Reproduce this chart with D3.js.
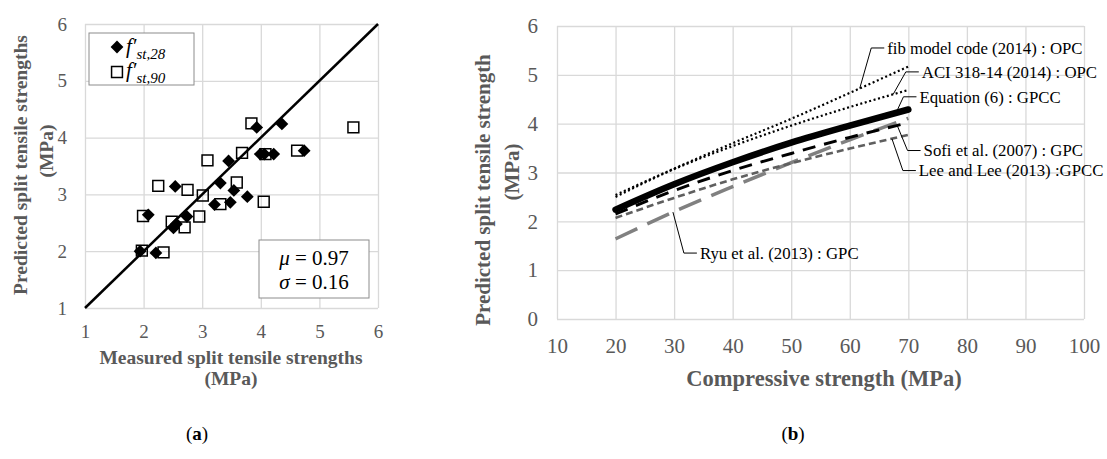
<!DOCTYPE html>
<html>
<head>
<meta charset="utf-8">
<script src="https://cdn.jsdelivr.net/npm/d3@7"></script>
<style>
  body { margin: 0; background: #fff; }
  text { font-family: "Liberation Serif", "Times New Roman", serif; }
</style>
</head>
<body>
<svg width="1107" height="459"></svg>
<script>
"use strict";

// ---- data: panel (a) ----
const measured28  = [1.94, 2.08, 2.21, 2.54, 2.51, 2.56, 2.74, 3.21, 3.31, 3.45, 3.48, 3.54, 3.77, 3.93, 3.99, 4.06, 4.22, 4.36, 4.74];
const predicted28 = [2.00, 2.64, 1.97, 3.14, 2.41, 2.48, 2.61, 2.82, 3.20, 3.59, 2.86, 3.07, 2.96, 4.18, 3.71, 3.71, 3.71, 4.24, 3.77];
const measured90  = [1.97, 1.99, 2.25, 2.34, 2.48, 2.70, 2.75, 2.95, 3.01, 3.09, 3.31, 3.59, 3.68, 3.84, 4.05, 4.08, 4.62, 5.58];
const predicted90 = [2.01, 2.62, 3.15, 1.98, 2.52, 2.42, 3.08, 2.61, 2.98, 3.60, 2.83, 3.21, 3.73, 4.25, 2.87, 3.71, 3.77, 4.18];
const ticksA = [1, 2, 3, 4, 5, 6];

// ---- data: panel (b) ----
const fc   = [20, 30, 40, 50, 60, 70];
const fib  = [2.54, 3.08, 3.60, 4.10, 4.63, 5.17];
const aci  = [2.50, 3.07, 3.54, 3.96, 4.34, 4.69];
const eq6  = [2.24, 2.76, 3.21, 3.61, 3.96, 4.29];
const sofi = [2.15, 2.63, 3.04, 3.39, 3.72, 4.02];
const lee  = [2.07, 2.48, 2.86, 3.19, 3.49, 3.77];
const ryu  = [1.64, 2.20, 2.71, 3.20, 3.67, 4.11];
const ticksBx = [10, 20, 30, 40, 50, 60, 70, 80, 90, 100];
const ticksBy = [0, 1, 2, 3, 4, 5, 6];

const svg = d3.select('svg');
const gridColor = '#d9d9d9';
const labelColor = '#595959';

function drawGrid(g, x, y, xt, yt) {
    const h = y.range()[0] - y.range()[1];
    const w = x.range()[1] - x.range()[0];
    g.append('g')
        .attr('transform', `translate(0,${y.range()[0]})`)
        .call(d3.axisBottom(x).tickValues(xt).tickSize(-h).tickFormat(''))
        .call(a => a.select('.domain').remove())
        .selectAll('line').attr('stroke', gridColor).attr('stroke-width', 1.3);
    g.append('g')
        .attr('transform', `translate(${x.range()[0]},0)`)
        .call(d3.axisLeft(y).tickValues(yt).tickSize(-w).tickFormat(''))
        .call(a => a.select('.domain').remove())
        .selectAll('line').attr('stroke', gridColor).attr('stroke-width', 1.3);
}

function drawTickLabels(g, x, y, xt, yt, size, padX, padY) {
    g.append('g')
        .attr('transform', `translate(0,${y.range()[0]})`)
        .call(d3.axisBottom(x).tickValues(xt).tickSize(0).tickPadding(padX).tickFormat(d3.format('d')))
        .call(a => a.select('.domain').remove())
        .selectAll('text')
        .attr('font-family', '"Liberation Serif", serif')
        .attr('font-size', size)
        .attr('fill', labelColor);
    g.append('g')
        .attr('transform', `translate(${x.range()[0]},0)`)
        .call(d3.axisLeft(y).tickValues(yt).tickSize(0).tickPadding(padY).tickFormat(d3.format('d')))
        .call(a => a.select('.domain').remove())
        .selectAll('text')
        .attr('font-family', '"Liberation Serif", serif')
        .attr('font-size', size)
        .attr('fill', labelColor);
}

// ================= panel (a) =================
const xA = d3.scaleLinear().domain([1, 6]).range([85, 378]);
const yA = d3.scaleLinear().domain([1, 6]).range([308, 24]);
const gA = svg.append('g');

drawGrid(gA, xA, yA, ticksA, ticksA);
drawTickLabels(gA, xA, yA, ticksA, ticksA, 19, 17, 18);

const pts90 = measured90.map((m, i) => [m, predicted90[i]]);
const pts28 = measured28.map((m, i) => [m, predicted28[i]]);
const squareSym = d3.symbol().type(d3.symbolSquare).size(118);
const diamondSym = d3.symbol().type(d3.symbolSquare).size(82);

gA.append('g').selectAll('path')
    .data(pts90)
    .join('path')
    .attr('d', squareSym)
    .attr('transform', d => `translate(${xA(d[0])},${yA(d[1])})`)
    .attr('fill', 'none')
    .attr('stroke', '#000')
    .attr('stroke-width', 1.5);

gA.append('g').selectAll('path')
    .data(pts28)
    .join('path')
    .attr('d', diamondSym)
    .attr('transform', d => `translate(${xA(d[0])},${yA(d[1])}) rotate(45)`)
    .attr('fill', '#000');

// 1:1 line
gA.append('line')
    .attr('x1', xA(1)).attr('y1', yA(1))
    .attr('x2', xA(6)).attr('y2', yA(6))
    .attr('stroke', '#000')
    .attr('stroke-width', 2.5);

// legend
const legA = gA.append('g');
legA.append('rect')
    .attr('x', 89).attr('y', 33).attr('width', 105).attr('height', 52)
    .attr('fill', '#fff').attr('stroke', '#8c8c8c').attr('stroke-width', 1);
legA.append('path')
    .attr('d', diamondSym)
    .attr('transform', 'translate(117,47) rotate(45)')
    .attr('fill', '#000');
legA.append('path')
    .attr('d', squareSym)
    .attr('transform', 'translate(117,72)')
    .attr('fill', 'none').attr('stroke', '#000').attr('stroke-width', 1.5);

function fLabel(g, x, y, sub) {
    const t = g.append('text').attr('x', x).attr('y', y).attr('font-size', 21).attr('fill', '#000');
    t.append('tspan').attr('font-style', 'italic').text('f\u2032');
    t.append('tspan').attr('font-style', 'italic').attr('font-size', 15).attr('dy', 6).text(sub);
}
fLabel(legA, 126, 53, 'st,28');
fLabel(legA, 126, 77, 'st,90');

// statistics box
const statA = gA.append('g');
statA.append('rect')
    .attr('x', 259).attr('y', 240).attr('width', 110).attr('height', 58)
    .attr('fill', '#fff').attr('stroke', '#8c8c8c').attr('stroke-width', 1);
[['\u03bc', ' = 0.97', 265], ['\u03c3', ' = 0.16', 289]].forEach(([sym, val, yy]) => {
    const t = statA.append('text')
        .attr('x', 314).attr('y', yy)
        .attr('text-anchor', 'middle')
        .attr('font-size', 21).attr('fill', '#000');
    t.append('tspan').attr('font-style', 'italic').text(sym);
    t.append('tspan').text(val);
});

// axis titles
gA.append('text')
    .attr('x', 231).attr('y', 364)
    .attr('text-anchor', 'middle').attr('font-weight', 'bold')
    .attr('font-size', 19.5).attr('fill', labelColor)
    .text('Measured split tensile strengths');
gA.append('text')
    .attr('x', 231).attr('y', 385)
    .attr('text-anchor', 'middle').attr('font-weight', 'bold')
    .attr('font-size', 19.5).attr('fill', labelColor)
    .text('(MPa)');
gA.append('text')
    .attr('transform', 'translate(27,165) rotate(-90)')
    .attr('text-anchor', 'middle').attr('font-weight', 'bold')
    .attr('font-size', 19.5).attr('fill', labelColor)
    .text('Predicted split tensile strengths');
gA.append('text')
    .attr('transform', 'translate(53,151) rotate(-90)')
    .attr('text-anchor', 'middle').attr('font-weight', 'bold')
    .attr('font-size', 19.5).attr('fill', labelColor)
    .text('(MPa)');

// ================= panel (b) =================
const xB = d3.scaleLinear().domain([10, 100]).range([557, 1084]);
const yB = d3.scaleLinear().domain([0, 6]).range([319, 26]);
const gB = svg.append('g');

drawGrid(gB, xB, yB, ticksBx, ticksBy);
drawTickLabels(gB, xB, yB, ticksBx, ticksBy, 21, 19, 19);

const series = [
    { name: 'Ryu et al. (2013) : GPC',     values: ryu,  color: '#808080', width: 3.5, dash: '24,11' },
    { name: 'Lee and Lee (2013) :GPCC',    values: lee,  color: '#5f5f5f', width: 2.6, dash: '7,4' },
    { name: 'Sofi et al. (2007) : GPC',    values: sofi, color: '#000',    width: 3,   dash: '13,9' },
    { name: 'ACI 318-14 (2014) : OPC',     values: aci,  color: '#000',    width: 2.2, dash: '2,2.6' },
    { name: 'fib model code (2014) : OPC', values: fib,  color: '#000',    width: 2.2, dash: '2,2.6' },
    { name: 'Equation (6) : GPCC',         values: eq6,  color: '#000',    width: 6.5, dash: null }
];

const line = d3.line()
    .x(d => xB(d[0]))
    .y(d => yB(d[1]))
    .curve(d3.curveMonotoneX);

gB.append('g').selectAll('path')
    .data(series)
    .join('path')
    .attr('d', s => line(fc.map((f, i) => [f, s.values[i]])))
    .attr('fill', 'none')
    .attr('stroke', s => s.color)
    .attr('stroke-width', s => s.width)
    .attr('stroke-dasharray', s => s.dash)
    .attr('stroke-linecap', s => s.dash ? 'butt' : 'round');

// leader labels: [series name, x on curve, label x, label y] in data units
const leaders = [
    ['fib model code (2014) : OPC', 61.7, 66.4, 5.55],
    ['ACI 318-14 (2014) : OPC',     67.4, 72.3, 5.06],
    ['Equation (6) : GPCC',         67.9, 71.9, 4.55],
    ['Sofi et al. (2007) : GPC',    68.1, 72.6, 3.45],
    ['Lee and Lee (2013) :GPCC',    67.2, 71.8, 3.04],
    ['Ryu et al. (2013) : GPC',     29.8, 34.4, 1.35]
];

leaders.forEach(([name, xOn, lx, ly]) => {
    const s = series.find(d => d.name === name);
    const yOn = d3.scaleLinear().domain(fc).range(s.values)(xOn);
    const px = xB(lx), py = yB(ly);
    gB.append('path')
        .attr('d', d3.line()([[xB(xOn), yB(yOn)], [px - 16, py], [px - 3, py]]))
        .attr('fill', 'none')
        .attr('stroke', '#000')
        .attr('stroke-width', 1);
    gB.append('text')
        .attr('x', px).attr('y', py)
        .attr('dy', '0.35em')
        .attr('font-size', 16.8)
        .attr('fill', '#000')
        .text(name);
});

gB.append('text')
    .attr('x', 824).attr('y', 386)
    .attr('text-anchor', 'middle').attr('font-weight', 'bold')
    .attr('font-size', 22.5).attr('fill', labelColor)
    .text('Compressive strength (MPa)');
gB.append('text')
    .attr('transform', 'translate(490,190) rotate(-90)')
    .attr('text-anchor', 'middle').attr('font-weight', 'bold')
    .attr('font-size', 21).attr('fill', labelColor)
    .text('Predicted split tensile strength');
gB.append('text')
    .attr('transform', 'translate(519,172) rotate(-90)')
    .attr('text-anchor', 'middle').attr('font-weight', 'bold')
    .attr('font-size', 21).attr('fill', labelColor)
    .text('(MPa)');

// panel captions
[['a', 197], ['b', 793]].forEach(([c, x]) => {
    const t = svg.append('text')
        .attr('x', x).attr('y', 440)
        .attr('text-anchor', 'middle')
        .attr('font-size', 19).attr('fill', '#000');
    t.append('tspan').text('(');
    t.append('tspan').attr('font-weight', 'bold').text(c);
    t.append('tspan').text(')');
});
</script>
</body>
</html>
